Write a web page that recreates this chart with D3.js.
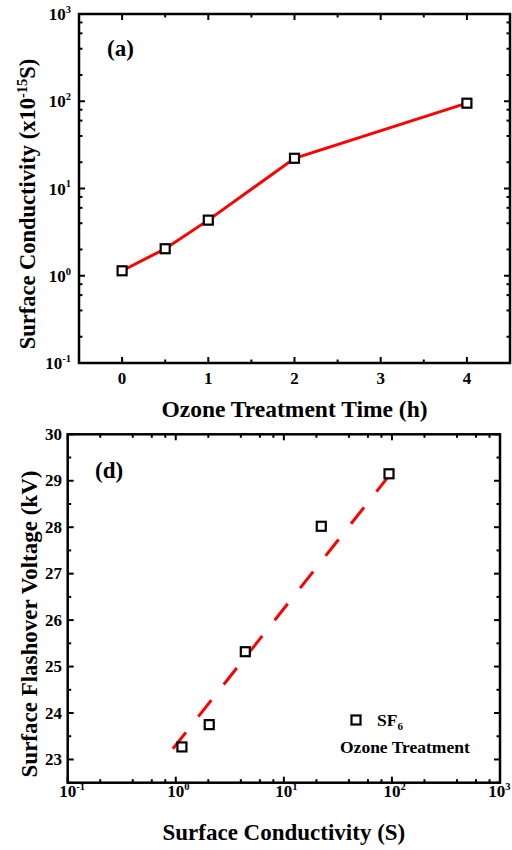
<!DOCTYPE html>
<html>
<head>
<meta charset="utf-8">
<script src="https://cdn.jsdelivr.net/npm/d3@7"></script>
<style>
  html, body { margin: 0; padding: 0; background: #fff; }
  svg { display: block; }
  text { font-family: "Liberation Serif", "Times New Roman", serif; font-weight: bold; fill: #000; }
</style>
</head>
<body>
<svg id="chart" width="512" height="850"></svg>
<script>
// ---------- Data ----------
// Panel (a): conductivity vs ozone treatment time
const timeHours = [0, 0.5, 1, 2, 4];
const conductivity = [1.14, 2.04, 4.34, 22.2, 95];
const xTicksA = [0, 1, 2, 3, 4];
const yTickExpA = [-1, 0, 1, 2, 3];

// Panel (d): flashover voltage vs surface conductivity
const conductivityD = [1.14, 2.04, 4.4, 22.2, 94];
const flashoverKV = [23.27, 23.75, 25.32, 28.02, 29.15];
const fitS = [0.94, 95];
const fitKV = [23.23, 29.12];
const xTickExpD = [-1, 0, 1, 2, 3];
const yTicksD = [23, 24, 25, 26, 27, 28, 29, 30];

const svg = d3.select("#chart");
const TICK_FS = 17, SUP_FS = 10.5;

function powLabel(sel, base, exp, anchor, x, y, fs, supfs, centerBase) {
  const t = sel.append("text").attr("x", x).attr("y", y).style("font-size", fs + "px");
  t.append("tspan").text(base);
  t.append("tspan").attr("dy", -fs * 0.42).style("font-size", supfs + "px").text(exp);
  if (anchor === "end") t.attr("text-anchor", "end");
  if (centerBase) {
    const tmp = sel.append("text").style("font-size", fs + "px").text(base);
    const w = tmp.node().getComputedTextLength();
    tmp.remove();
    let left = x - w / 2;
    const total = t.node().getComputedTextLength();
    if (left + total > 510.5) left = 510.5 - total; // keep inside the page
    t.attr("x", left);
  }
  return t;
}

function frameAndTicks(g, x, y, xMajor, xMinor, yMajor, yMinor) {
  const [x0, x1] = x.range();
  const [y0, y1] = y.range(); // y0 bottom, y1 top
  const maj = 6, mino = 3.5;
  const tg = g.append("g").attr("stroke", "#000").attr("stroke-width", 2);
  xMajor.forEach(v => {
    tg.append("line").attr("x1", x(v)).attr("x2", x(v)).attr("y1", y0).attr("y2", y0 - maj);
    tg.append("line").attr("x1", x(v)).attr("x2", x(v)).attr("y1", y1).attr("y2", y1 + maj);
  });
  xMinor.forEach(v => {
    tg.append("line").attr("x1", x(v)).attr("x2", x(v)).attr("y1", y0).attr("y2", y0 - mino);
    tg.append("line").attr("x1", x(v)).attr("x2", x(v)).attr("y1", y1).attr("y2", y1 + mino);
  });
  yMajor.forEach(v => {
    tg.append("line").attr("y1", y(v)).attr("y2", y(v)).attr("x1", x0).attr("x2", x0 + maj);
    tg.append("line").attr("y1", y(v)).attr("y2", y(v)).attr("x1", x1).attr("x2", x1 - maj);
  });
  yMinor.forEach(v => {
    tg.append("line").attr("y1", y(v)).attr("y2", y(v)).attr("x1", x0).attr("x2", x0 + mino);
    tg.append("line").attr("y1", y(v)).attr("y2", y(v)).attr("x1", x1).attr("x2", x1 - mino);
  });
  g.append("rect").attr("x", x0).attr("y", y1).attr("width", x1 - x0).attr("height", y0 - y1)
    .attr("fill", "none").attr("stroke", "#000").attr("stroke-width", 2.5);
}

function logMinors(expLo, expHi) {
  const out = [];
  for (let e = expLo; e < expHi; e++) [2, 4, 6, 8].forEach(m => out.push(m * Math.pow(10, e)));
  return out;
}

function marker(g, cx, cy) {
  g.append("rect").attr("x", cx - 4.5).attr("y", cy - 4.5).attr("width", 9).attr("height", 9)
    .attr("fill", "#fff").attr("stroke", "#000").attr("stroke-width", 2.2);
}

// ---------- Panel (a) ----------
{
  const g = svg.append("g");
  const x = d3.scaleLinear().domain([-0.5, 4.5]).range([79, 510]);
  const y = d3.scaleLog().domain([0.1, 1000]).range([363, 14]);
  const yMajor = yTickExpA.map(e => Math.pow(10, e));
  frameAndTicks(g, x, y, xTicksA, [0.5, 1.5, 2.5, 3.5], yMajor, logMinors(-1, 3));

  const line = d3.line().x((d, i) => x(timeHours[i])).y((d, i) => y(conductivity[i]));
  g.append("path").datum(conductivity).attr("d", line)
    .attr("fill", "none").attr("stroke", "#ff0000").attr("stroke-width", 3);
  conductivity.forEach((v, i) => marker(g, x(timeHours[i]), y(v)));

  xTicksA.forEach(v => g.append("text").attr("x", x(v)).attr("y", 383.5)
    .attr("text-anchor", "middle").style("font-size", TICK_FS + "px").text(v));
  yTickExpA.forEach(e => powLabel(g, "10", String(e), "end", 71, y(Math.pow(10, e)) + 6, TICK_FS, SUP_FS, false));

  g.append("text").attr("x", 107).attr("y", 56).style("font-size", "23px").text("(a)");
  g.append("text").attr("x", 294.5).attr("y", 417).attr("text-anchor", "middle")
    .style("font-size", "23.5px").text("Ozone Treatment Time (h)");
  const yl = g.append("text").attr("transform", "translate(35,204) rotate(-90)")
    .attr("text-anchor", "middle").style("font-size", "22.5px");
  yl.append("tspan").text("Surface Conductivity (x10");
  yl.append("tspan").attr("dy", -8).style("font-size", "14.5px").text("-15");
  yl.append("tspan").attr("dy", 8).text("S)");
}

// ---------- Panel (d) ----------
{
  const g = svg.append("g");
  const x = d3.scaleLog().domain([0.1, 1000]).range([67.7, 500]);
  const y = d3.scaleLinear().domain([22.5, 30]).range([782.7, 434.3]);
  const xMajor = xTickExpD.map(e => Math.pow(10, e));
  const yMinor = d3.range(22.5, 30, 1);
  frameAndTicks(g, x, y, xMajor, logMinors(-1, 3), yTicksD, yMinor);

  const fit = d3.line().x((d, i) => x(fitS[i])).y((d, i) => y(fitKV[i]));
  g.append("path").datum(fitKV).attr("d", fit)
    .attr("fill", "none").attr("stroke", "#ff0000").attr("stroke-width", 3)
    .attr("stroke-dasharray", "21,20");
  flashoverKV.forEach((v, i) => marker(g, x(conductivityD[i]), y(v)));

  yTicksD.forEach(v => g.append("text").attr("x", 62).attr("y", y(v) + 5.5)
    .attr("text-anchor", "end").style("font-size", TICK_FS + "px").text(v));
  xTickExpD.forEach(e => powLabel(g, "10", String(e), "start", x(Math.pow(10, e)), 797, TICK_FS, SUP_FS, true));

  g.append("text").attr("x", 95).attr("y", 478).style("font-size", "23px").text("(d)");
  g.append("text").attr("x", 283.9).attr("y", 840).attr("text-anchor", "middle")
    .style("font-size", "23px").text("Surface Conductivity (S)");
  g.append("text").attr("transform", "translate(37,624) rotate(-90)")
    .attr("text-anchor", "middle").style("font-size", "23px").text("Surface Flashover Voltage (kV)");

  // legend
  marker(g, 356, 720);
  const lt = g.append("text").attr("x", 377).attr("y", 726).style("font-size", "17.5px");
  lt.append("tspan").text("SF");
  lt.append("tspan").attr("dy", 4).style("font-size", "11px").text("6");
  g.append("text").attr("x", 340).attr("y", 753).style("font-size", "17.5px").text("Ozone Treatment");
}
</script>
</body>
</html>
